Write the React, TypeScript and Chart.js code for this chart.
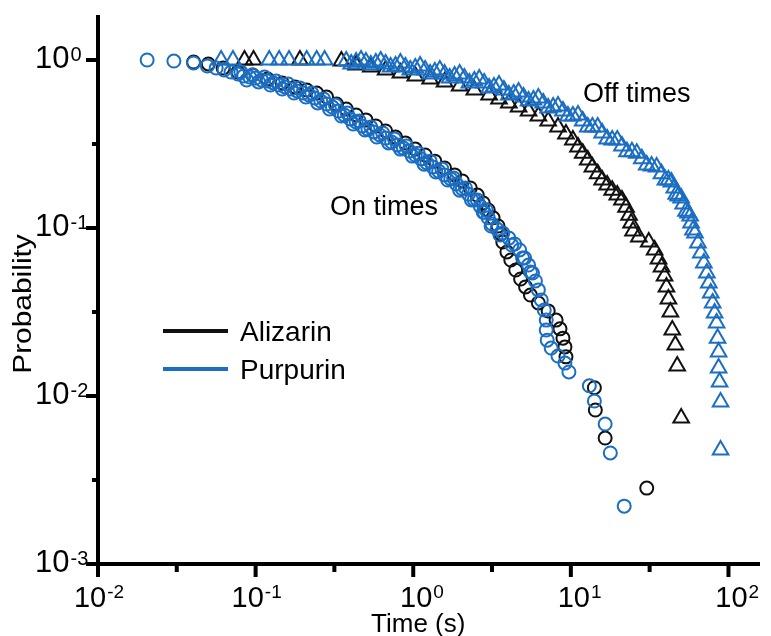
import React, { useEffect, useRef } from 'react';
import { Chart, registerables } from 'chart.js';

Chart.register(...registerables);

const FONT = '"Liberation Sans", Arial, Helvetica, sans-serif';
const BLUE = '#1b6ec2';
const BLACK = '#111111';

// ---- Data: survival probability vs time (s) ----
const alizarinOnTime = [0.0404, 0.0501, 0.0622, 0.0772, 0.0958, 0.119, 0.1475, 0.178, 0.211, 0.244, 0.282, 0.326, 0.376, 0.434, 0.501, 0.579, 0.668, 0.772, 0.891, 1.03, 1.19, 1.37, 1.58, 1.83, 2.05, 2.30, 2.55, 2.78, 2.99, 3.21, 3.45, 3.60, 3.70, 3.93, 4.16, 4.47, 4.80, 5.16, 5.54, 6.22, 7.18, 8.06, 8.53, 8.91, 9.17, 9.31, 14.1, 14.3, 16.5, 30.3];
const alizarinOnProb = [0.973, 0.947, 0.896, 0.848, 0.814, 0.771, 0.730, 0.691, 0.663, 0.636, 0.602, 0.547, 0.511, 0.471, 0.440, 0.405, 0.378, 0.348, 0.321, 0.295, 0.272, 0.250, 0.2276, 0.207, 0.1906, 0.173, 0.157, 0.141, 0.128, 0.115, 0.1028, 0.0921, 0.0825, 0.0720, 0.0645, 0.0562, 0.0497, 0.0446, 0.0399, 0.0358, 0.0321, 0.0283, 0.0251, 0.0221, 0.0196, 0.0171, 0.0112, 0.00825, 0.00562, 0.00283];

const purpurinOnTime = [
  0.0205, 0.0303, 0.0404, 0.0494, 0.0562, 0.0631, 0.0698, 0.0772, 0.0841, 0.0917, 0.100, 0.109, 0.119, 0.1296, 0.141, 0.154, 0.168, 0.183, 0.200, 0.218, 0.237, 0.259, 0.282, 0.307, 0.335, 0.365, 0.398, 0.434, 0.473, 0.516, 0.562, 0.613, 0.668, 0.729, 0.794, 0.866, 0.944, 1.03, 1.12, 1.22, 1.33, 1.45, 1.58, 1.73, 1.88, 2.05, 2.24, 2.44, 2.66, 2.82, 2.99, 3.16, 3.40, 3.70, 4.04, 4.40, 4.73, 5.09, 5.39, 5.71, 5.96, 6.22, 6.49, 6.78, 6.98, 6.98, 7.08, 7.50, 8.29, 9.17, 9.72, 13.1, 14.1, 16.5, 17.8, 21.8,
  0.0806, 0.0958, 0.1138, 0.1352, 0.1608, 0.191, 0.2272, 0.270, 0.3208, 0.3813, 0.4532, 0.538, 0.640, 0.7607, 0.9043, 1.075, 1.28, 1.52, 1.804, 2.144, 2.55, 2.90,
  0.0878, 0.1044, 0.1241, 0.1475, 0.1753, 0.2084, 0.2476, 0.2942, 0.350, 0.416, 0.4941, 0.5872, 0.6978, 0.829, 0.986, 1.172, 1.392, 1.654, 1.97, 2.34, 2.78, 3.12, 3.55, 4.22, 4.94, 5.54,
];
const purpurinOnProb = [
  1.0, 0.986, 0.960, 0.921, 0.896, 0.872, 0.848, 0.825, 0.803, 0.792, 0.781, 0.760, 0.750, 0.730, 0.710, 0.691, 0.672, 0.654, 0.636, 0.619, 0.594, 0.570, 0.547, 0.525, 0.497, 0.471, 0.446, 0.428, 0.405, 0.388, 0.373, 0.358, 0.343, 0.325, 0.312, 0.299, 0.287, 0.272, 0.258, 0.244, 0.231, 0.218, 0.207, 0.196, 0.183, 0.171, 0.159, 0.147, 0.135, 0.124, 0.115, 0.1056, 0.0986, 0.0933, 0.0871, 0.0803, 0.0740, 0.0663, 0.0602, 0.0540, 0.0484, 0.0428, 0.0373, 0.0325, 0.0283, 0.0247, 0.0215, 0.0193, 0.0173, 0.0157, 0.0139, 0.0115, 0.00933, 0.00681, 0.00458, 0.00221,
  0.848, 0.814, 0.792, 0.750, 0.720, 0.681, 0.636, 0.586, 0.540, 0.484, 0.434, 0.399, 0.368, 0.339, 0.308, 0.279, 0.250, 0.2245, 0.1984, 0.173, 0.147, 0.128,
  0.760, 0.740, 0.710, 0.672, 0.636, 0.602, 0.555, 0.511, 0.464, 0.416, 0.383, 0.348, 0.321, 0.295, 0.268, 0.240, 0.2154, 0.193, 0.168, 0.147, 0.124, 0.1028, 0.0908, 0.0792, 0.0663, 0.0547,
];

const alizarinOffTime = [0.085, 0.097, 0.191, 0.350, 0.434, 0.538, 0.668, 0.829, 1.03, 1.28, 1.58, 1.97, 2.44, 3.03, 3.50, 4.04, 4.66, 5.39, 6.22, 7.18, 8.29, 9.31, 10.3, 11.1, 11.9, 12.8, 13.7, 14.8, 15.8, 17.0, 18.3, 19.7, 21.1, 22.4, 23.4, 24.1, 24.8, 27.0, 31.2, 34.0, 36.0, 37.6, 39.3, 40.4, 41.6, 42.8, 44.0, 46.0, 47.3, 50.1];
const alizarinOffProb = [1.0, 1.0, 1.0, 0.986, 0.934, 0.908, 0.872, 0.837, 0.803, 0.771, 0.740, 0.700, 0.663, 0.619, 0.586, 0.555, 0.525, 0.497, 0.464, 0.434, 0.399, 0.363, 0.334, 0.303, 0.279, 0.254, 0.231, 0.210, 0.193, 0.180, 0.168, 0.157, 0.147, 0.133, 0.119, 0.107, 0.0960, 0.0884, 0.0825, 0.0740, 0.0654, 0.0586, 0.0518, 0.0446, 0.0378, 0.0316, 0.0247, 0.0201, 0.0151, 0.00740];

const purpurinOffTime = [
  0.0604, 0.0718, 0.122, 0.141, 0.163, 0.211, 0.244, 0.274, 0.376, 0.434, 0.501, 0.579, 0.668, 0.772, 0.891, 1.03, 1.19, 1.37, 1.58, 1.83, 2.11, 2.44, 2.82, 3.25, 3.76, 4.34, 5.01, 5.79, 6.68, 7.72, 8.91, 10.3, 11.9, 13.7, 15.8, 18.3, 21.1, 24.4, 28.2, 32.5, 37.6, 41.6, 45.3, 48.0, 51.6, 55.4, 57.9, 61.3, 64.0, 66.8, 69.8, 72.9, 75.0, 77.2, 79.4, 81.7, 84.1, 85.3, 86.6, 86.6, 87.8, 89.1, 89.1,
  0.404, 0.4665, 0.538, 0.6218, 0.7184, 0.829, 0.9577, 1.106, 1.28, 1.475, 1.703, 1.97, 2.271, 2.623, 3.03, 3.50, 4.04, 4.66, 5.39, 6.22, 7.18, 8.29, 9.58, 11.1, 12.8, 14.8, 17.0, 19.7, 22.7, 26.2, 30.3, 35.0, 39.8, 43.4, 46.6, 50.1, 53.8, 57.1, 59.6,
];
const purpurinOffProb = [
  1.0, 1.0, 1.0, 1.0, 1.0, 1.0, 1.0, 1.0, 0.986, 0.973, 0.973, 0.960, 0.947, 0.921, 0.908, 0.896, 0.872, 0.848, 0.825, 0.803, 0.781, 0.750, 0.730, 0.691, 0.663, 0.628, 0.602, 0.578, 0.555, 0.525, 0.497, 0.464, 0.434, 0.399, 0.368, 0.334, 0.308, 0.284, 0.258, 0.234, 0.210, 0.193, 0.173, 0.155, 0.139, 0.123, 0.107, 0.0933, 0.0814, 0.0710, 0.0619, 0.0540, 0.0471, 0.0410, 0.0358, 0.0312, 0.0272, 0.0221, 0.0183, 0.0147, 0.0121, 0.00921, 0.00477,
  0.947, 1.0, 0.934, 0.986, 0.908, 0.960, 0.872, 0.921, 0.825, 0.872, 0.781, 0.825, 0.730, 0.771, 0.681, 0.710, 0.619, 0.645, 0.570, 0.594, 0.518, 0.532, 0.464, 0.471, 0.399, 0.399, 0.339, 0.334, 0.284, 0.279, 0.237, 0.231, 0.193, 0.188, 0.159, 0.151, 0.126, 0.118, 0.0973,
];

// ---- Axes ----
const X_MIN = 0.01;
const X_MAX = 158.5;
const Y_MIN = 0.001;
const Y_MAX = 1.853;
const xMajorExps = [-2, -1, 0, 1, 2];
const xMinorTicks = [0.0316, 0.316, 3.16, 31.6];
const yMajorExps = [0, -1, -2, -3];
const yMinorTicks = [0.316, 0.0316, 0.00316];

const legendItems = [
  { label: 'Alizarin', color: BLACK },
  { label: 'Purpurin', color: BLUE },
];

const toPts = (xs: number[], ys: number[]) => xs.map((x, i) => ({ x, y: ys[i] }));
const supText = (e: number) => (e < 0 ? '-' + Math.abs(e) : String(e));

const decorPlugin = {
  id: 'decor',
  afterDraw(chart: any) {
    const { ctx, chartArea: a, scales } = chart;
    const xs = scales.x;
    const ys = scales.y;
    ctx.save();
    ctx.strokeStyle = '#000';
    ctx.fillStyle = '#000';
    ctx.lineWidth = 4;
    ctx.lineCap = 'butt';
    ctx.beginPath();
    ctx.moveTo(a.left, a.top);
    ctx.lineTo(a.left, a.bottom + 2);
    ctx.moveTo(a.left - 2, a.bottom);
    ctx.lineTo(a.right, a.bottom);
    ctx.stroke();
    ctx.beginPath();
    yMajorExps.forEach((e) => {
      const py = ys.getPixelForValue(Math.pow(10, e));
      ctx.moveTo(a.left - 12, py);
      ctx.lineTo(a.left, py);
    });
    yMinorTicks.forEach((v) => {
      const py = ys.getPixelForValue(v);
      ctx.moveTo(a.left - 6, py);
      ctx.lineTo(a.left, py);
    });
    xMajorExps.forEach((e) => {
      const px = xs.getPixelForValue(Math.pow(10, e));
      ctx.moveTo(px, a.bottom);
      ctx.lineTo(px, a.bottom + 13);
    });
    xMinorTicks.forEach((v) => {
      const px = xs.getPixelForValue(v);
      ctx.moveTo(px, a.bottom);
      ctx.lineTo(px, a.bottom + 8);
    });
    ctx.stroke();

    ctx.textBaseline = 'alphabetic';
    ctx.textAlign = 'left';
    yMajorExps.forEach((e) => {
      const py = ys.getPixelForValue(Math.pow(10, e));
      ctx.font = `31px ${FONT}`;
      ctx.fillText('10', 35, py + 8);
      const w = ctx.measureText('10').width;
      ctx.font = `20px ${FONT}`;
      ctx.fillText(supText(e), 35 + w + 1, py + 1);
    });
    const base = a.bottom + 43;
    xMajorExps.forEach((e) => {
      const px = xs.getPixelForValue(Math.pow(10, e));
      ctx.font = `29px ${FONT}`;
      const w10 = ctx.measureText('10').width;
      ctx.font = `19px ${FONT}`;
      const ws = ctx.measureText(supText(e)).width;
      const left = e < 0 ? px - (w10 + 1 + ws) / 2 + 1 : px - w10 / 2 + 3;
      ctx.font = `29px ${FONT}`;
      ctx.fillText('10', left, base);
      ctx.font = `19px ${FONT}`;
      ctx.fillText(supText(e), left + w10 + 1, base - 9);
    });
    ctx.font = `26px ${FONT}`;
    ctx.textAlign = 'center';
    ctx.fillText('Time (s)', xs.getPixelForValue(1) + 5, 632);
    ctx.save();
    ctx.translate(31, 304);
    ctx.rotate(-Math.PI / 2);
    ctx.scale(1.15, 1);
    ctx.font = `26px ${FONT}`;
    ctx.fillText('Probability', 0, 0);
    ctx.restore();

    ctx.textAlign = 'left';
    ctx.font = `27px ${FONT}`;
    ctx.fillText('On times', 330, 215);
    ctx.fillText('Off times', 583, 102);

    legendItems.forEach((it, i) => {
      const ly = 331 + i * 38;
      ctx.strokeStyle = it.color;
      ctx.lineWidth = 4;
      ctx.beginPath();
      ctx.moveTo(163, ly);
      ctx.lineTo(228, ly);
      ctx.stroke();
      ctx.fillStyle = '#000';
      ctx.font = `28px ${FONT}`;
      ctx.fillText(it.label, 240, ly + 10);
    });
    ctx.restore();
  },
};

export default function App() {
  const ref = useRef<HTMLCanvasElement | null>(null);
  useEffect(() => {
    if (!ref.current) return;
    const circle = (color: string, order: number) => ({
      pointStyle: 'circle',
      pointRadius: 6.5,
      pointBorderWidth: 2,
      borderWidth: 2,
      pointBorderColor: color,
      borderColor: color,
      pointBackgroundColor: 'rgba(0,0,0,0)',
      backgroundColor: 'rgba(0,0,0,0)',
      showLine: false,
      order,
    });
    const tri = (color: string, order: number) => ({
      ...circle(color, order),
      pointStyle: 'triangle',
      pointRadius: 9,
    });
    const chart = new Chart(ref.current, {
      type: 'scatter',
      data: {
        datasets: [
          { label: 'Purpurin on', data: toPts(purpurinOnTime, purpurinOnProb), ...circle(BLUE, 0) } as any,
          { label: 'Purpurin off', data: toPts(purpurinOffTime, purpurinOffProb), ...tri(BLUE, 0) } as any,
          { label: 'Alizarin on', data: toPts(alizarinOnTime, alizarinOnProb), ...circle(BLACK, 1) } as any,
          { label: 'Alizarin off', data: toPts(alizarinOffTime, alizarinOffProb), ...tri(BLACK, 1) } as any,
        ],
      },
      options: {
        responsive: false,
        devicePixelRatio: 1,
        animation: false,
        events: [],
        layout: { padding: { left: 98, right: 1, top: 15, bottom: 72 } },
        plugins: { legend: { display: false }, tooltip: { enabled: false } },
        scales: {
          x: { type: 'logarithmic', min: X_MIN, max: X_MAX, display: false },
          y: { type: 'logarithmic', min: Y_MIN, max: Y_MAX, display: false },
        },
      },
      plugins: [decorPlugin],
    } as any);
    return () => chart.destroy();
  }, []);
  return (
    <div style={{ position: 'absolute', left: 0, top: 0, width: 771, height: 636, background: '#fff' }}>
      <canvas ref={ref} width={771} height={636} style={{ display: 'block' }} />
    </div>
  );
}
